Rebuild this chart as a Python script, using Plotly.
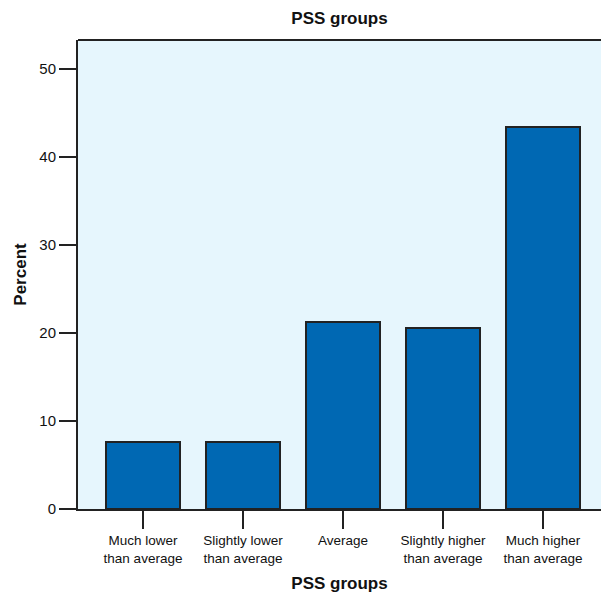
import plotly.graph_objects as go

categories = ["Much lower<br>than average", "Slightly lower<br>than average", "Average",
              "Slightly higher<br>than average", "Much higher<br>than average"]
percent = [7.6, 7.6, 21.2, 20.6, 43.4]
y_ticks = [0, 10, 20, 30, 40, 50]

FONT = "Liberation Sans, Arial, Helvetica, sans-serif"
W, H = 601, 595

fig = go.Figure(go.Bar(
    x=list(range(len(categories))), y=percent,
    width=0.74,
    marker=dict(color="#0068b3", line=dict(color="#222222", width=2)),
    hoverinfo="skip",
))

fig.update_layout(
    width=W, height=H,
    margin=dict(l=78, r=0, t=40, b=86),
    paper_bgcolor="white", plot_bgcolor="#e6f6fd",
    showlegend=False,
    font=dict(family=FONT, color="#111111"),
    title=dict(text="PSS groups", x=0.5, xref="paper", xanchor="center",
               y=1 - 18 / H, yref="container", yanchor="middle",
               font=dict(size=17, weight="bold", family=FONT)),
    bargap=0,
)

fig.update_xaxes(
    range=[-0.65, 4.58], tickmode="array",
    tickvals=list(range(len(categories))), ticktext=categories,
    ticks="outside", ticklen=18, tickwidth=2, tickcolor="#222222",
    showline=True, linecolor="#222222", linewidth=2,
    showgrid=False, zeroline=False,
    tickfont=dict(size=13.5, family=FONT),
    title=dict(text="PSS groups", font=dict(size=17, weight="bold", family=FONT), standoff=12),
)
fig.update_yaxes(
    range=[0, 53.3], tickmode="array", tickvals=y_ticks,
    ticks="outside", ticklen=17, tickwidth=2, tickcolor="#222222",
    showline=True, linecolor="#222222", linewidth=2,
    showgrid=False, zeroline=False,
    tickfont=dict(size=15, family=FONT),
    title=dict(text="Percent", font=dict(size=17, weight="bold", family=FONT), standoff=8),
)

fig.add_shape(type="line", xref="paper", yref="paper", x0=0, x1=1, y0=1, y1=1,
              line=dict(color="#222222", width=2))

fig.write_html("out.html", config={"displayModeBar": False},
               post_script="document.body.style.margin='0';document.body.style.overflow='hidden';")
